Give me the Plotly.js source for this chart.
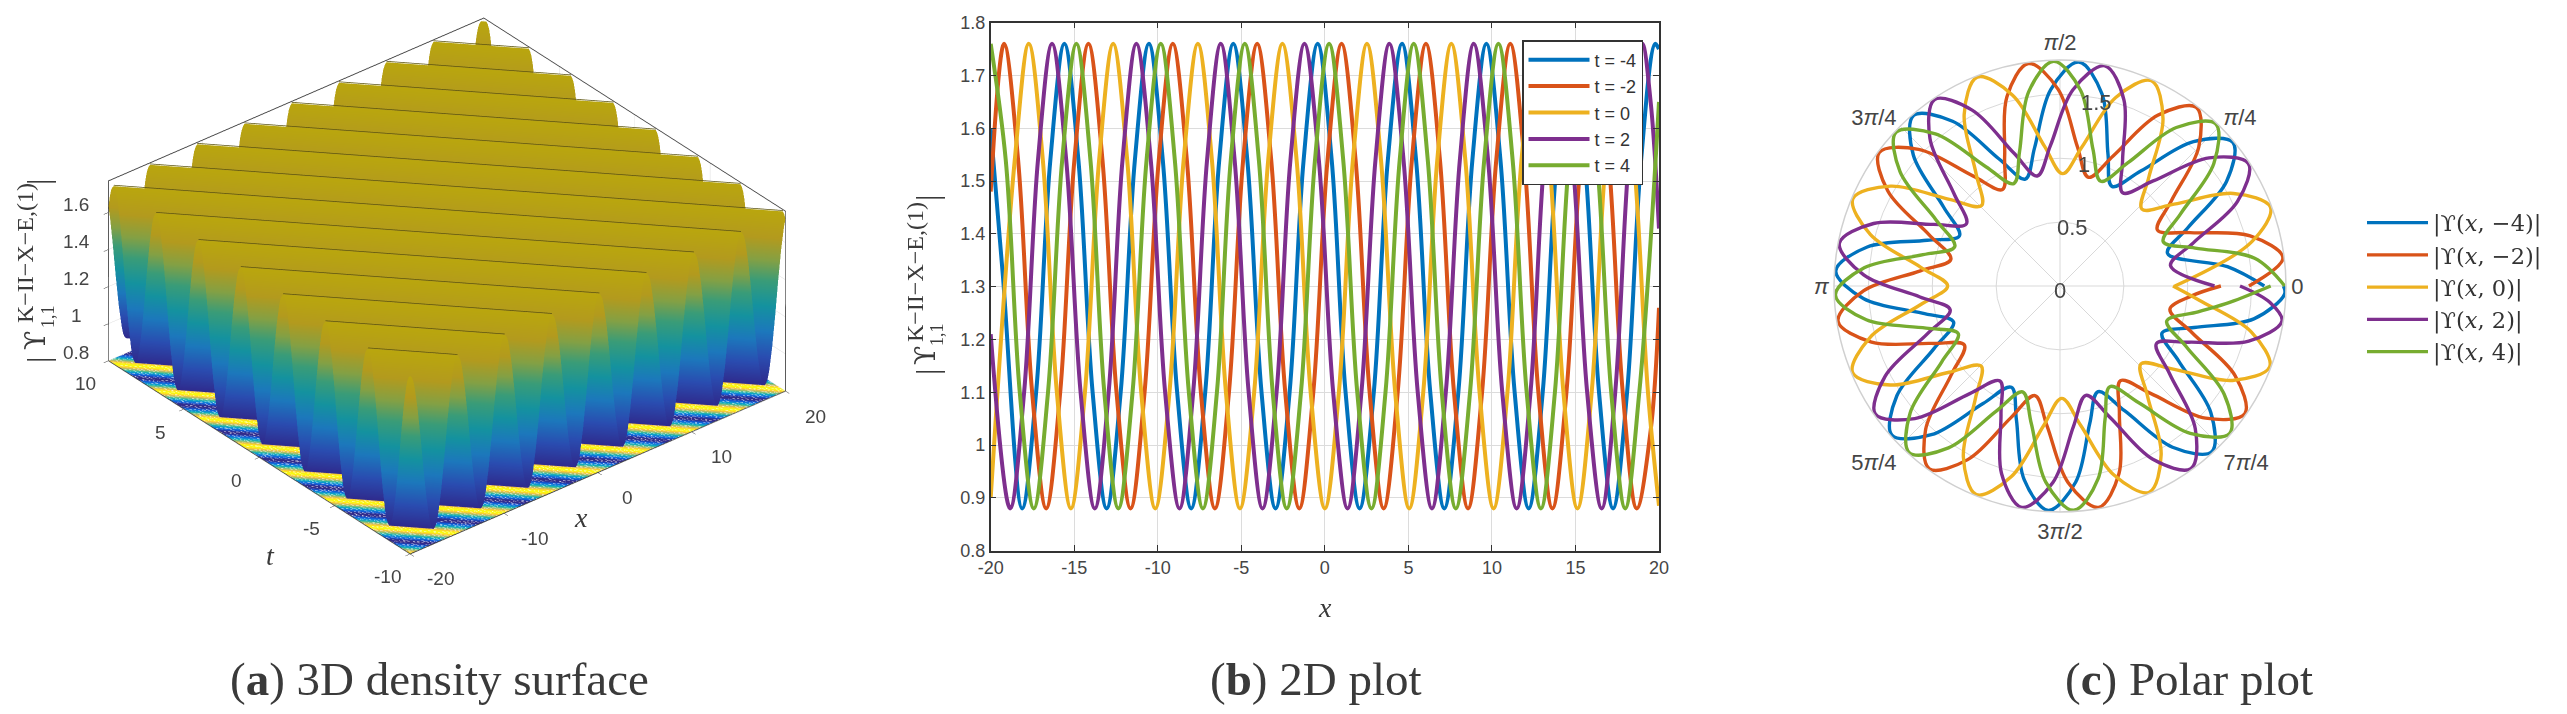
<!DOCTYPE html>
<html>
<head>
<meta charset="utf-8">
<script src="https://cdn.plot.ly/plotly-3.0.1.min.js"></script>
<style>
  html, body { margin: 0; padding: 0; background: #fff; }
  #chart { width: 2567px; height: 714px; }
</style>
</head>
<body>
<div id="chart"></div>
<script>
var W = 2567, H = 714;

// points of each curve: peak, two on the flank, trough, two on the flank, ...
var xBlue = [-20, -19.27, -18.12, -17.28, -16.43, -15.59, -14.75, -13.9, -13.06, -12.22, -11.37, -10.53, -9.7, -8.84, -8.0, -7.16, -6.32, -5.48, -4.64, -3.79, -2.95, -2.11, -1.27, -0.43, 0.41, 1.24, 2.08, 2.93, 3.77, 4.62, 5.46, 6.31, 7.15, 7.99, 8.83, 9.67, 10.51, 11.36, 12.2, 13.04, 13.88, 14.72, 15.56, 16.41, 17.25, 18.09, 18.93, 19.77, 20];
var yBlue = [1.60, 1.32, 0.88, 1.10, 1.54, 1.76, 1.54, 1.10, 0.88, 1.10, 1.54, 1.76, 1.54, 1.10, 0.88, 1.10, 1.54, 1.76, 1.54, 1.10, 0.88, 1.10, 1.54, 1.76, 1.54, 1.10, 0.88, 1.10, 1.54, 1.76, 1.54, 1.10, 0.88, 1.10, 1.54, 1.76, 1.54, 1.10, 0.88, 1.10, 1.54, 1.76, 1.54, 1.10, 0.88, 1.10, 1.54, 1.76, 1.75];
var xOrange = [-20, -19.2, -18.36, -17.52, -16.68, -15.84, -14.99, -14.15, -13.31, -12.47, -11.63, -10.79, -9.94, -9.1, -8.26, -7.42, -6.58, -5.74, -4.89, -4.05, -3.21, -2.37, -1.53, -0.69, 0.16, 1.0, 1.84, 2.68, 3.52, 4.36, 5.21, 6.05, 6.89, 7.73, 8.57, 9.41, 10.26, 11.1, 11.94, 12.78, 13.62, 14.46, 15.31, 16.15, 16.99, 17.83, 18.67, 19.51, 20];
var yOrange = [1.48, 1.76, 1.54, 1.10, 0.88, 1.10, 1.54, 1.76, 1.54, 1.10, 0.88, 1.10, 1.54, 1.76, 1.54, 1.10, 0.88, 1.10, 1.54, 1.76, 1.54, 1.10, 0.88, 1.10, 1.54, 1.76, 1.54, 1.10, 0.88, 1.10, 1.54, 1.76, 1.54, 1.10, 0.88, 1.10, 1.54, 1.76, 1.54, 1.10, 0.88, 1.10, 1.54, 1.76, 1.54, 1.10, 0.88, 1.03, 1.26];
var xYellow = [-20, -18.56, -17.72, -16.88, -16.04, -15.2, -14.36, -13.51, -12.67, -11.83, -10.99, -10.15, -9.3, -8.45, -7.6, -6.76, -5.92, -5.08, -4.23, -3.39, -2.54, -1.69, -0.85, 0, 0.84, 1.68, 2.52, 3.36, 4.21, 5.05, 5.89, 6.73, 7.57, 8.41, 9.26, 10.1, 10.93, 11.77, 12.6, 13.44, 14.28, 15.12, 15.97, 16.81, 17.66, 18.5, 19.34, 20];
var yYellow = [0.90, 1.54, 1.76, 1.54, 1.10, 0.88, 1.10, 1.54, 1.76, 1.54, 1.10, 0.88, 1.10, 1.54, 1.76, 1.54, 1.10, 0.88, 1.10, 1.54, 1.76, 1.54, 1.10, 0.88, 1.10, 1.54, 1.76, 1.54, 1.10, 0.88, 1.10, 1.54, 1.76, 1.54, 1.10, 0.88, 1.10, 1.54, 1.76, 1.54, 1.10, 0.88, 1.10, 1.54, 1.76, 1.54, 1.10, 0.885];
var xPurple = [-20, -18.84, -18.0, -17.17, -16.33, -15.48, -14.62, -13.77, -12.94, -12.11, -11.28, -10.42, -9.56, -8.7, -7.88, -7.05, -6.23, -5.4, -4.56, -3.73, -2.89, -2.06, -1.22, -0.36, 0.5, 1.36, 2.19, 3.03, 3.86, 4.71, 5.56, 6.41, 7.24, 8.08, 8.91, 9.77, 10.62, 11.48, 12.31, 13.13, 13.96, 14.83, 15.7, 16.57, 17.38, 18.19, 19.0, 19.5, 20];
var yPurple = [1.21, 0.88, 1.10, 1.54, 1.76, 1.54, 1.10, 0.88, 1.10, 1.54, 1.76, 1.54, 1.10, 0.88, 1.10, 1.54, 1.76, 1.54, 1.10, 0.88, 1.10, 1.54, 1.76, 1.54, 1.10, 0.88, 1.10, 1.54, 1.76, 1.54, 1.10, 0.88, 1.10, 1.54, 1.76, 1.54, 1.10, 0.88, 1.10, 1.54, 1.76, 1.54, 1.10, 0.88, 1.10, 1.54, 1.76, 1.65, 1.41];
var xGreen = [-20, -19.1, -18.26, -17.42, -16.57, -15.72, -14.87, -14.03, -13.2, -12.36, -11.51, -10.67, -9.82, -8.98, -8.14, -7.3, -6.46, -5.63, -4.79, -3.95, -3.12, -2.28, -1.43, -0.59, 0.255, 1.1, 1.94, 2.79, 3.63, 4.48, 5.32, 6.16, 7.0, 7.84, 8.69, 9.54, 10.39, 11.24, 12.08, 12.93, 13.77, 14.61, 15.45, 16.29, 17.14, 17.98, 18.82, 19.4, 20];
var yGreen = [1.76, 1.54, 1.10, 0.88, 1.10, 1.54, 1.76, 1.54, 1.10, 0.88, 1.10, 1.54, 1.76, 1.54, 1.10, 0.88, 1.10, 1.54, 1.76, 1.54, 1.10, 0.88, 1.10, 1.54, 1.76, 1.54, 1.10, 0.88, 1.10, 1.54, 1.76, 1.54, 1.10, 0.88, 1.10, 1.54, 1.76, 1.54, 1.10, 0.88, 1.10, 1.54, 1.76, 1.54, 1.10, 0.88, 1.10, 1.34, 1.65];

var seriesColors = ['#0072BD', '#D95319', '#EDB120', '#7E2F8E', '#77AC30'];
var tLabels = ['t = -4', 't = -2', 't = 0', 't = 2', 't = 4'];
var polarLabels = ['|ϒ(<i>x</i>, −4)|', '|ϒ(<i>x</i>, −2)|', '|ϒ(<i>x</i>, 0)|', '|ϒ(<i>x</i>, 2)|', '|ϒ(<i>x</i>, 4)|'];

// one ridge cross-section of the surface (32 samples over one period)
var ridgeProfile = [1.76, 1.75, 1.73, 1.69, 1.63, 1.57, 1.49, 1.41, 1.32, 1.23, 1.15, 1.07, 1.01, 0.95, 0.91, 0.89,
                    0.88, 0.89, 0.91, 0.95, 1.01, 1.07, 1.15, 1.23, 1.32, 1.41, 1.49, 1.57, 1.63, 1.69, 1.73, 1.75];
// ridge crest lines on the surface, null breaks between ridges
var crestX = [-20, -14.96, null, -20, -9.92, null, -20, -4.88, null, -20, 0.16, null, -20, 5.19, null, -20, 10.23, null, -20, 15.27, null,
              -15.59, 20, null, -10.55, 20, null, -5.51, 20, null, -0.47, 20, null, 4.57, 20, null, 9.61, 20, null, 14.65, 20];
var crestT = [-7.19, -10, null, -4.38, -10, null, -1.58, -10, null, 1.23, -10, null, 4.03, -10, null, 6.84, -10, null, 9.65, -10, null,
              10, -9.83, null, 10, -7.02, null, 10, -4.21, null, 10, -1.40, null, 10, 1.40, null, 10, 4.21, null, 10, 7.02];

var xTicks = [-20, -15, -10, -5, 0, 5, 10, 15, 20];
var xTickText = ['-20', '-15', '-10', '-5', '0', '5', '10', '15', '20'];
var yTicks = [0.8, 0.9, 1, 1.1, 1.2, 1.3, 1.4, 1.5, 1.6, 1.7, 1.8];
var yTickText = ['0.8', '0.9', '1', '1.1', '1.2', '1.3', '1.4', '1.5', '1.6', '1.7', '1.8'];
var sceneXTicks = [-20, -10, 0, 10, 20];
var sceneXText = ['-20', '-10', '0', '10', '20'];
var sceneTTicks = [-10, -5, 0, 5, 10];
var sceneTText = ['-10', '-5', '0', '5', '10'];
var sceneZTicks = [0.8, 1, 1.2, 1.4, 1.6];
var sceneZText = ['0.8', '1', '1.2', '1.4', '1.6'];
var rTicks = [0, 0.5, 1, 1.5];
var rTickText = ['0', '0.5', '1', '1.5'];
var thetaTicks = [0, 45, 90, 135, 180, 225, 270, 315];
var thetaText = ['0', '<i>π</i>/4', '<i>π</i>/2', '3<i>π</i>/4', '<i>π</i>', '5<i>π</i>/4', '3<i>π</i>/2', '7<i>π</i>/4'];

var parula = [[0, '#352a87'], [0.14, '#0f5cdd'], [0.28, '#1481d6'], [0.42, '#06a4ca'], [0.56, '#2eb7a4'],
              [0.7, '#87bf77'], [0.84, '#d1bb59'], [0.92, '#fec832'], [1, '#f9fb0e']];
// the surface itself looks darker than the floor because of its mesh lines
var surfaceScale = [[0, '#2f2a8c'], [0.15, '#2a4cb0'], [0.3, '#1c78bc'], [0.45, '#14929f'], [0.6, '#3a9c78'],
                    [0.72, '#84a044'], [0.85, '#b39a1e'], [1, '#b9a60e']];

var textColor = '#454545';
var sansFont = 'Liberation Sans, Arial, sans-serif';
var serifFont = 'Liberation Serif, serif';

function px(x) { return x / W; }
function py(y) { return 1 - y / H; }

var allX = [xBlue, xOrange, xYellow, xPurple, xGreen];
var allY = [yBlue, yOrange, yYellow, yPurple, yGreen];

// surface grid: each row shifts the profile one sample, that is how the ridges run across (x,t)
var nx = 255, nt = 229, xGrid = [], tGrid = [], zGrid = [], floorZ = [], floorColor = [];
for (var i = 0; i < nx; i++) xGrid.push(-20 + 40 * i / (nx - 1));
for (var j = 0; j < nt; j++) {
  tGrid.push(-10 + 20 * j / (nt - 1));
  var row = [], flat = [];
  for (var k = 0; k < nx; k++) {
    row.push(ridgeProfile[(k + j) % ridgeProfile.length]);
    flat.push(0.8);
  }
  zGrid.push(row);
  floorZ.push(flat);
  floorColor.push(row);
}

var traces = [
  { type: 'surface', x: xGrid, y: tGrid, z: floorZ, surfacecolor: floorColor, cmin: 0.88, cmax: 1.76,
    colorscale: parula, showscale: false, scene: 'scene', hoverinfo: 'skip',
    lighting: { ambient: 1, diffuse: 0, specular: 0, roughness: 1, fresnel: 0 } },
  { type: 'surface', x: xGrid, y: tGrid, z: zGrid, cmin: 0.88, cmax: 1.76,
    colorscale: surfaceScale, showscale: false, scene: 'scene',
    lighting: { ambient: 1, diffuse: 0, specular: 0, roughness: 1, fresnel: 0 } },
  { type: 'scatter3d', mode: 'lines', x: crestX, y: crestT,
    z: crestX.map(function (v) { return v === null ? null : 1.765; }),
    line: { color: '#5c5410', width: 1.5 }, scene: 'scene', showlegend: false, hoverinfo: 'skip' }
];

for (var s = 0; s < 5; s++) {
  traces.push({
    type: 'scatter', mode: 'lines', x: allX[s], y: allY[s], name: tLabels[s],
    line: { color: seriesColors[s], width: 4, shape: 'spline', smoothing: 1 },
    xaxis: 'x', yaxis: 'y', legend: 'legend'
  });
}
for (var p = 0; p < 5; p++) {
  traces.push({
    type: 'scatterpolar', mode: 'lines', subplot: 'polar',
    r: allY[p],
    theta: allX[p].map(function (v) { return (v + 20) / 40 * 360; }),
    name: polarLabels[p],
    line: { color: seriesColors[p], width: 3.4, shape: 'spline', smoothing: 1 },
    legend: 'legend2'
  });
}

function label(x, y, text, size, font, angle) {
  return { xref: 'paper', yref: 'paper', x: px(x), y: py(y), text: text, showarrow: false,
           xanchor: 'center', yanchor: 'middle', textangle: angle || 0,
           font: { family: font, size: size, color: '#3a3a3a' } };
}

// tick labels of the 3D box, pinned to the axis values so they sit where MATLAB put them
function sceneTick(x, y, z, text, dx, dy) {
  return { x: x, y: y, z: z, text: text, showarrow: false, xshift: dx, yshift: dy,
           xanchor: 'center', yanchor: 'middle', font: { family: sansFont, size: 19, color: textColor } };
}
var sceneLabels = [];
sceneXTicks.forEach(function (v, n) { sceneLabels.push(sceneTick(v, -10, 0.8, sceneXText[n], 30, -25)); });
sceneTTicks.forEach(function (v, n) { sceneLabels.push(sceneTick(-20, v, 0.8, sceneTText[n], -23, -23)); });
sceneZTicks.forEach(function (v, n) { sceneLabels.push(sceneTick(-20, 10, v, sceneZText[n], -32, 8)); });

var annotations = [
  label(270, 555, '<i>t</i>', 28, serifFont),
  label(581, 517, '<i>x</i>', 28, serifFont),
  label(1325, 607, '<i>x</i>', 28, serifFont),
  // |Υ_{1,1}^{K-II-X-E,(1)}| panel (a)
  label(38, 182, '|', 32, serifFont, -90),
  label(38, 360, '|', 32, serifFont, -90),
  label(35, 341, 'ϒ', 28, 'DejaVu Serif, serif', -90),
  label(25, 253, 'K−II−X−E,(1)', 24, serifFont, -90),
  label(48, 317, '1,1', 18, serifFont, -90),
  // same title for panel (b)
  label(927, 198, '|', 32, serifFont, -90),
  label(927, 372, '|', 32, serifFont, -90),
  label(925, 356, 'ϒ', 28, 'DejaVu Serif, serif', -90),
  label(915, 272, 'K−II−X−E,(1)', 24, serifFont, -90),
  label(937, 335, '1,1', 18, serifFont, -90),
  // captions
  label(439, 679, '(<b>a</b>) 3D density surface', 47, serifFont),
  label(1316, 679, '(<b>b</b>) 2D plot', 47, serifFont),
  label(2189, 679, '(<b>c</b>) Polar plot', 47, serifFont)
];

// radial tick labels sit on the 79 degree line, centred on it
rTicks.forEach(function (r, n) {
  var a = 79 * Math.PI / 180, rp = r * 127.5;
  annotations.push({ xref: 'paper', yref: 'paper', x: px(2060 + rp * Math.cos(a)), y: py(286 - rp * Math.sin(a) + 4),
                     text: rTickText[n], showarrow: false, xanchor: 'center', yanchor: 'middle',
                     font: { family: sansFont, size: 22, color: textColor } });
});

function sceneAxis(range, vals) {
  return { range: range, tickvals: vals, title: { text: '' }, showticklabels: false,
           showbackground: false, gridcolor: '#dddddd', showline: true, linecolor: '#444', linewidth: 2, mirror: true,
           ticks: 'outside', ticklen: 6, tickcolor: '#333', zeroline: false, showspikes: false };
}

var layout = {
  width: W, height: H,
  margin: { l: 0, r: 0, t: 0, b: 0, pad: 0 },
  paper_bgcolor: '#fff', plot_bgcolor: '#fff',
  showlegend: true,
  annotations: annotations,
  font: { family: sansFont, color: textColor, size: 18 },
  scene: {
    domain: { x: [px(47), px(847)], y: [py(572), py(0)] },
    aspectmode: 'manual',
    aspectratio: { x: 1.7, y: 1.66, z: 0.74 },
    camera: {
      projection: { type: 'orthographic' },
      up: { x: 0, y: 0, z: 1 },
      center: { x: 0, y: 0, z: 0 },
      eye: { x: -1.08, y: -1.312, z: 1.054 }
    },
    bgcolor: '#fff',
    annotations: sceneLabels,
    xaxis: sceneAxis([-20, 20], sceneXTicks),
    yaxis: sceneAxis([-10, 10], sceneTTicks),
    zaxis: sceneAxis([0.8, 1.77], sceneZTicks)
  },
  xaxis: {
    domain: [px(990.7), px(1659)], range: [-20, 20], anchor: 'y',
    tickmode: 'array', tickvals: xTicks, ticktext: xTickText,
    ticks: 'inside', ticklen: 6, tickcolor: '#333', tickwidth: 1.2,
    showline: true, linecolor: '#333', linewidth: 1.5, mirror: 'ticks',
    showgrid: true, gridcolor: '#dcdcdc', zeroline: false,
    tickfont: { size: 18, color: textColor, family: sansFont }
  },
  yaxis: {
    domain: [py(550.7), py(22.7)], range: [0.8, 1.8], anchor: 'x',
    tickmode: 'array', tickvals: yTicks, ticktext: yTickText,
    ticks: 'inside', ticklen: 6, tickcolor: '#333', tickwidth: 1.2,
    showline: true, linecolor: '#333', linewidth: 1.5, mirror: 'ticks',
    showgrid: true, gridcolor: '#dcdcdc', zeroline: false,
    tickfont: { size: 18, color: textColor, family: sansFont }
  },
  polar: {
    domain: { x: [px(2060 - 226), px(2060 + 226)], y: [py(286 + 226), py(286 - 226)] },
    bgcolor: 'rgba(0,0,0,0)',
    radialaxis: {
      range: [0, 1.77], tickmode: 'array', tickvals: rTicks,
      angle: 79, ticks: '', showline: false, showticklabels: false,
      gridcolor: '#d9d9d9'
    },
    angularaxis: {
      thetaunit: 'degrees', direction: 'counterclockwise', rotation: 0,
      tickmode: 'array', tickvals: thetaTicks, ticktext: thetaText,
      ticks: '', showline: true, linecolor: '#d0d0d0', linewidth: 1.5,
      gridcolor: '#d9d9d9', tickfont: { size: 22, color: textColor, family: sansFont }
    }
  },
  legend: {
    x: px(1522), y: py(40), xanchor: 'left', yanchor: 'top',
    bgcolor: '#fff', bordercolor: '#333', borderwidth: 1.5,
    font: { size: 18, color: '#333', family: sansFont },
    itemwidth: 61
  },
  legend2: {
    x: px(2362), y: py(201.5), xanchor: 'left', yanchor: 'top',
    bgcolor: 'rgba(0,0,0,0)', borderwidth: 0,
    font: { size: 22.5, color: '#333', family: 'DejaVu Serif, serif' },
    itemwidth: 61
  }
};

Plotly.newPlot('chart', traces, layout, { displayModeBar: false });
</script>
</body>
</html>
